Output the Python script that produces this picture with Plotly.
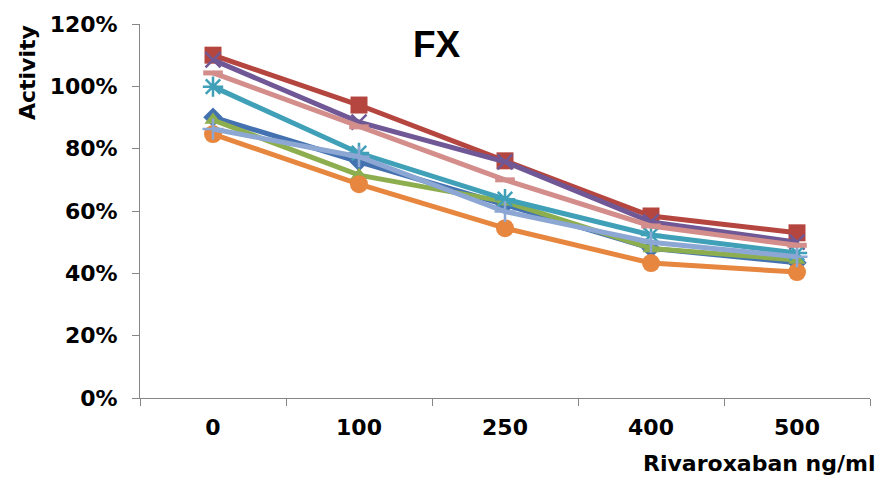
import plotly.graph_objects as go

# Rivaroxaban concentrations (ng/ml) and residual FX activity per sample
concentrations = ["0", "100", "250", "400", "500"]

sample_1 = [0.901, 0.758, 0.620, 0.480, 0.434]
sample_2 = [1.100, 0.940, 0.761, 0.584, 0.530]
sample_3 = [0.892, 0.715, 0.630, 0.480, 0.443]
sample_4 = [1.085, 0.885, 0.758, 0.565, 0.500]
sample_5 = [0.999, 0.786, 0.638, 0.523, 0.465]
sample_6 = [0.847, 0.686, 0.545, 0.433, 0.404]
sample_7 = [0.863, 0.774, 0.598, 0.500, 0.453]
sample_8 = [1.043, 0.870, 0.700, 0.552, 0.490]

y_ticks = [0, 0.2, 0.4, 0.6, 0.8, 1.0, 1.2]

series = [
    (sample_1, "#4472B0", dict(symbol="diamond", size=15)),
    (sample_2, "#B5463F", dict(symbol="square", size=17)),
    (sample_3, "#8DAE4E", dict(symbol="triangle-up", size=15)),
    (sample_4, "#6F5895", dict(symbol="x-thin", size=15, line=dict(width=2.5, color="#6F5895"))),
    (sample_5, "#3FA0B8", dict(symbol="asterisk", size=17, line=dict(width=2.5, color="#3FA0B8"))),
    (sample_6, "#E6863F", dict(symbol="circle", size=18)),
    (sample_7, "#8CA7D3", dict(symbol="cross-thin", size=15, line=dict(width=2.5, color="#8CA7D3"))),
    (sample_8, "#D38D8B", dict(symbol="line-ew", size=14, line=dict(width=5, color="#D38D8B"))),
]

fig = go.Figure()
for values, color, marker in series:
    marker = dict(marker)
    marker.setdefault("color", color)
    fig.add_trace(go.Scatter(
        x=concentrations, y=values, mode="lines+markers",
        line=dict(color=color, width=5),
        marker=marker, showlegend=False, hoverinfo="skip",
    ))

tick_font = dict(family="DejaVu Sans", size=22, color="#000000", weight="bold")
axis_grey = "#868686"

fig.update_layout(
    width=881, height=479,
    margin=dict(l=140, r=11, t=24, b=81),
    paper_bgcolor="white", plot_bgcolor="white",
    xaxis=dict(
        type="category", range=[-0.5, 4.5], tickson="boundaries",
        showline=True, linecolor=axis_grey, linewidth=1,
        ticks="outside", ticklen=7, tickcolor=axis_grey,
        showgrid=False, zeroline=False, tickfont=tick_font,
        ticklabelstandoff=10,
    ),
    yaxis=dict(
        range=[0, 1.2], tickvals=y_ticks, tickformat=".0%",
        showline=True, linecolor=axis_grey, linewidth=1,
        ticks="outside", ticklen=7, tickcolor=axis_grey,
        showgrid=False, zeroline=False, tickfont=tick_font,
        ticklabelstandoff=10,
    ),
    annotations=[
        dict(text="FX", xref="paper", yref="paper", x=0.407, y=0.9465,
             xanchor="center", yanchor="middle", showarrow=False,
             font=dict(family="Liberation Sans Narrow, Liberation Sans, sans-serif",
                       size=37, color="#000000", weight="bold")),
        dict(text="Activity", xref="paper", yref="paper", x=0, y=1,
             xanchor="center", yanchor="middle", xshift=-113, yshift=-49,
             textangle=-90, showarrow=False,
             font=dict(family="DejaVu Sans", size=22, color="#000000", weight="bold")),
        dict(text="Rivaroxaban ng/ml", xref="paper", yref="paper", x=1, y=0,
             xanchor="right", yanchor="middle", xshift=8, yshift=-65,
             showarrow=False,
             font=dict(family="DejaVu Sans", size=22, color="#000000", weight="bold")),
    ],
)

fig.write_html("out.html")
